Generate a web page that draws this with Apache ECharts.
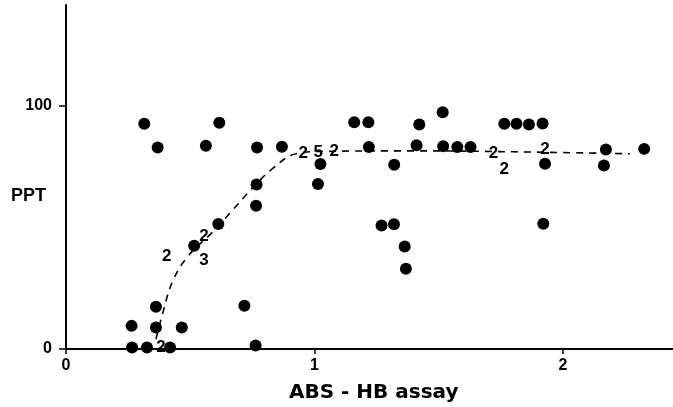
<!DOCTYPE html>
<html>
<head>
<meta charset="utf-8">
<script src="https://cdn.jsdelivr.net/npm/echarts@6/dist/echarts.min.js"></script>
<style>
  html, body { margin: 0; padding: 0; background: #fff; }
  #chart { width: 673px; height: 407px; }
</style>
</head>
<body>
<div id="chart"></div>
<script>
// Individual assay results: [ABS-HB assay, PPT]
const singlePoints = [
  [0.266, 0.6], [0.326, 0.6], [0.419, 0.6], [0.763, 1.4],
  [0.264, 9.5], [0.362, 17.4], [0.362, 8.8], [0.466, 8.8], [0.718, 17.8],
  [0.516, 42.4], [0.613, 51.3], [0.765, 58.8], [0.767, 67.6], [0.769, 82.8],
  [0.315, 92.5], [0.369, 82.8], [0.563, 83.5], [0.617, 92.9], [0.869, 83.1],
  [1.014, 67.8], [1.024, 76.0],
  [1.160, 93.1], [1.217, 93.1], [1.219, 83.0], [1.321, 75.7],
  [1.270, 50.7], [1.320, 51.2], [1.363, 42.1], [1.368, 33.0],
  [1.422, 92.2], [1.411, 83.7], [1.516, 97.2], [1.518, 83.3], [1.575, 83.0], [1.628, 83.0],
  [1.764, 92.5], [1.813, 92.5], [1.863, 92.2], [1.918, 92.6],
  [1.928, 76.1], [1.921, 51.4], [2.173, 81.9], [2.165, 75.4], [2.327, 82.2]
];

// Coincident results, marked by their count: [x, y, count]
const groupedPoints = [
  [0.382, 0.8, 2],
  [0.405, 38.0, 2],
  [0.555, 46.2, 2],
  [0.555, 36.6, 3],
  [0.955, 80.5, 2],
  [1.015, 80.8, 5],
  [1.080, 81.2, 2],
  [1.720, 80.5, 2],
  [1.764, 74.0, 2],
  [1.928, 81.9, 2]
];

// Fitted trend (dashed)
const trendCurve = [
  [0.362, 4], [0.39, 15], [0.43, 28], [0.49, 38], [0.59, 48], [0.67, 57],
  [0.75, 66], [0.83, 74], [0.93, 80.3], [1.05, 81.2], [1.4, 81.4],
  [1.8, 81.0], [2.27, 80.2]
];

// Axis tick values
const xTicks = [0, 1, 2];
const yTicks = [0, 100];

const tickFont = "'Liberation Sans', Arial, sans-serif";

const chart = echarts.init(document.getElementById('chart'), null, { renderer: 'canvas' });
chart.setOption({
  animation: false,
  backgroundColor: '#fff',
  title: [
    {
      text: 'PPT',
      left: 6, top: 182,
      textStyle: { fontFamily: "'Liberation Sans', Arial, sans-serif", fontWeight: 'bold', fontSize: 18, color: '#000' }
    },
    {
      text: 'ABS - HB assay',
      left: 284, top: 378,
      textStyle: { fontFamily: "'DejaVu Sans', sans-serif", fontWeight: 'bold', fontSize: 20, color: '#000' }
    }
  ],
  grid: { left: 66, right: 0, top: 5, bottom: 58, containLabel: false },
  xAxis: {
    type: 'value',
    min: 0, max: 2.443,
    splitLine: { show: false },
    axisLine: { show: true, onZero: false, lineStyle: { color: '#000', width: 2 } },
    axisTick: { show: true, customValues: xTicks, length: 5, inside: false, lineStyle: { color: '#000', width: 1.5 } },
    axisLabel: {
      customValues: xTicks, margin: 9,
      fontFamily: tickFont, fontWeight: 'bold', fontSize: 16, color: '#000'
    }
  },
  yAxis: {
    type: 'value',
    min: 0, max: 141.3,
    splitLine: { show: false },
    axisLine: { show: true, onZero: false, lineStyle: { color: '#000', width: 2 } },
    axisTick: { show: true, customValues: yTicks, length: 7, inside: false, lineStyle: { color: '#000', width: 1.5 } },
    axisLabel: {
      customValues: yTicks, margin: 14,
      fontFamily: tickFont, fontWeight: 'bold', fontSize: 16, color: '#000'
    }
  },
  series: [
    {
      type: 'line',
      data: trendCurve,
      smooth: 0.4,
      symbol: 'none',
      z: 1,
      lineStyle: { color: '#000', width: 1.6, type: [7, 6] }
    },
    {
      type: 'scatter',
      data: singlePoints,
      symbol: 'circle',
      symbolSize: 12,
      z: 3,
      itemStyle: { color: '#000', opacity: 1 }
    },
    {
      type: 'scatter',
      data: groupedPoints,
      symbol: 'circle',
      symbolSize: 1,
      z: 4,
      itemStyle: { color: 'rgba(0,0,0,0)', opacity: 1 },
      label: {
        show: true,
        position: 'inside',
        formatter: p => String(p.value[2]),
        fontFamily: tickFont, fontWeight: 'bold', fontSize: 17, color: '#000'
      }
    }
  ]
});
</script>
</body>
</html>
